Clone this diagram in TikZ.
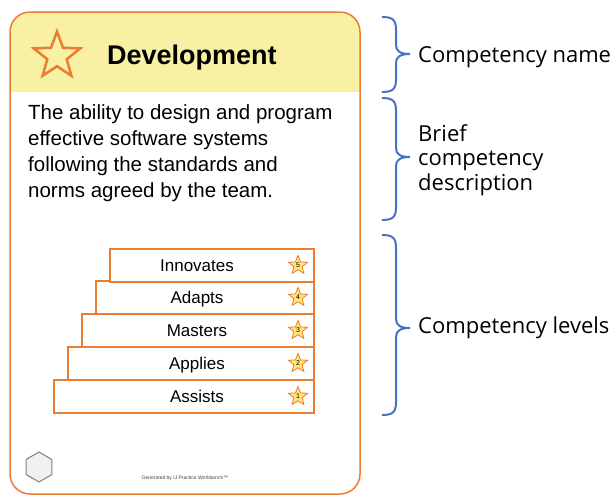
\documentclass[tikz,border=0pt]{standalone}
\usepackage{fontspec}
\setmainfont{Liberation Sans}
\newfontfamily\notefont{Open Sans}
\usetikzlibrary{shapes.geometric,positioning}

\definecolor{cardorange}{RGB}{235,125,50}
\definecolor{headyellow}{RGB}{248,240,162}
\definecolor{braceblue}{RGB}{70,114,196}
\definecolor{starfill}{RGB}{255,230,120}

\begin{document}
\begin{tikzpicture}[x=1pt,y=-1pt,
  levelbox/.style={draw=cardorange,line width=2pt,fill=white,inner sep=0pt,minimum height=32.8pt,anchor=north east},
  levelstar/.style={star,star points=5,star point ratio=2.3,draw=cardorange,fill=starfill,line width=0.8pt,minimum size=20pt,inner sep=0pt,font=\fontsize{7}{7}\selectfont},
  leveltext/.style={font=\fontsize{17}{17}\selectfont,text height=12.2pt,text depth=0pt,inner sep=0pt},
  note/.style={font=\notefont\fontsize{22}{24.5}\selectfont,align=left,anchor=west,inner sep=0pt},
  sidebrace/.style={draw=braceblue,line width=2pt}]
\useasboundingbox (0,0) rectangle (610,496);

% card
\begin{scope}
\clip[rounded corners=20pt] (10,12) rectangle (360,494);
\fill[headyellow] (10,12) rectangle (360,92);
\end{scope}
\draw[cardorange,line width=1.5pt,rounded corners=20pt] (10,12) rectangle (360,494);

\node[star,star points=5,star point ratio=2.4,draw=cardorange,line width=2.5pt,minimum size=49pt,inner sep=0pt] (headstar) at (57,56) {};
\node[anchor=west,inner sep=0pt,font=\bfseries\fontsize{27}{27}\selectfont] (title) at (107,58) {Development};

\node[anchor=north west,inner sep=0pt,align=left,font=\fontsize{20.5}{26}\selectfont] (desc) at (28,104.3)
 {The ability to design and program\\effective software systems\\following the standards and\\norms agreed by the team.};

% levels
\coordinate (textcol) at (197,0);
\node[levelbox,minimum width=260pt] (assists) at (315,379) {};
\node[levelbox,minimum width=246pt] (applies) at (315,346) {};
\node[levelbox,minimum width=232pt] (masters) at (315,313) {};
\node[levelbox,minimum width=218pt] (adapts) at (315,280) {};
\node[levelbox,minimum width=204pt] (innovates) at (315,248) {};

\node[leveltext] at (assists.center -| textcol) {Assists};
\node[leveltext] at (applies.center -| textcol) {Applies};
\node[leveltext] at (masters.center -| textcol) {Masters};
\node[leveltext] at (adapts.center -| textcol) {Adapts};
\node[leveltext] at (innovates.center -| textcol) {Innovates};

\node[levelstar] (star1) at ([xshift=-17pt]assists.east) {1};
\node[levelstar] (star2) at ([xshift=-17pt]applies.east) {2};
\node[levelstar] (star3) at ([xshift=-17pt]masters.east) {3};
\node[levelstar] (star4) at ([xshift=-17pt]adapts.east) {4};
\node[levelstar] (star5) at ([xshift=-17pt]innovates.east) {5};

\node[regular polygon,regular polygon sides=6,shape border rotate=30,draw=gray,fill=gray!12,line width=1pt,minimum size=30pt,inner sep=0pt] (hex) at (39,467) {};
\node[font=\fontsize{5}{5}\selectfont,text=black!75] (footer) at (185,478) {Generated by IJ Practice Workbench™};

% braces
\coordinate (tip1) at (410,54);
\coordinate (tip2) at (410,157);
\coordinate (tip3) at (410,328);
\draw[sidebrace] (382,17) .. controls (393,17) and (396,20) .. (396,30) -- (396,45)
  .. controls (396,51) and (400,54) .. (tip1) .. controls (400,54) and (396,57) .. (396,63)
  -- (396,79) .. controls (396,89) and (393,92) .. (382,92);
\draw[sidebrace] (382,98) .. controls (393,98) and (396,101) .. (396,111) -- (396,148)
  .. controls (396,154) and (400,157) .. (tip2) .. controls (400,157) and (396,160) .. (396,166)
  -- (396,207) .. controls (396,217) and (393,220) .. (382,220);
\draw[sidebrace] (382,235) .. controls (393,235) and (396,238) .. (396,248) -- (396,319)
  .. controls (396,325) and (400,328) .. (tip3) .. controls (400,328) and (396,331) .. (396,337)
  -- (396,402) .. controls (396,412) and (393,415) .. (382,415);

\node[note,right=8pt of tip1,yshift=-3pt] (namenote) {Competency name};
\node[note,right=8pt of tip2,yshift=-3pt] (descnote) {Brief\\competency\\description};
\node[note,right=8pt of tip3] (levelnote) {Competency levels};
\end{tikzpicture}
\end{document}
